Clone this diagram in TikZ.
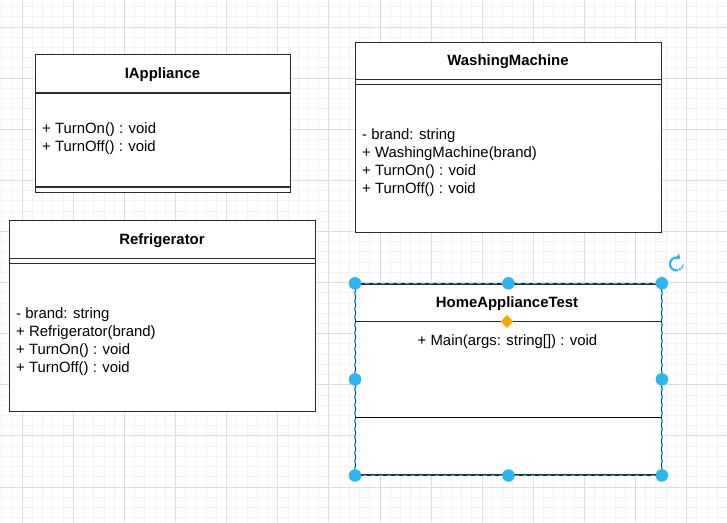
\documentclass[tikz,border=0pt]{standalone}
\usepackage{fontspec}
\setmainfont{Liberation Sans}
\usetikzlibrary{arrows.meta}
\definecolor{selblue}{HTML}{29B6F2}
\definecolor{handleor}{HTML}{FFA500}
\definecolor{gridminor}{HTML}{F3F3F3}
\definecolor{gridmajor}{HTML}{DDDDDD}
\definecolor{boxline}{HTML}{2B2B2B}
\tikzset{
  classbox/.style={draw=boxline, line width=1.2pt, fill=none, anchor=north west, inner sep=0pt},
  sep/.style={draw=boxline, line width=1.2pt},
  ctitle/.style={font=\fontsize{14.9}{17}\selectfont\bfseries, inner sep=0pt},
  member/.style={font=\fontsize{14.9}{17}\selectfont, inner sep=0pt, anchor=west, text height=11pt, text depth=4pt},
  handle/.style={circle, fill=selblue, inner sep=0pt, minimum size=12.5pt},
}
\begin{document}
\begin{tikzpicture}[x=1pt, y=-1pt]
\useasboundingbox (0,0) rectangle (727,522);
\fill[white] (0,0) rectangle (727,522);
% grid
\foreach \i in {0,...,71} \draw[gridminor, line width=0.8pt] ({1.76+\i*10.22},0) -- ({1.76+\i*10.22},522);
\foreach \i in {0,...,51} \draw[gridminor, line width=0.8pt] (0,{6.56+\i*10.22}) -- (727,{6.56+\i*10.22});
\foreach \i in {0,...,13} \draw[gridmajor, line width=0.8pt] ({22.2+\i*51.1},0) -- ({22.2+\i*51.1},522);
\foreach \i in {0,...,9} \draw[gridmajor, line width=0.8pt] (0,{27+\i*51.1}) -- (727,{27+\i*51.1});

% IAppliance
\node[classbox, fill=white, minimum width=255pt, minimum height=137.5pt] (ia) at (35,54) {};
\node[ctitle] (iat) at (162.5,74.2) {IAppliance};
\draw[sep] (35,93) -- (290,93);
\draw[sep] (35,187) -- (290,187);
\node[member] (ia1) at (42,129.5) {+ TurnOn() : void};
\node[member] (ia2) at (42,148) {+ TurnOff() : void};

% WashingMachine
\node[classbox, fill=white, minimum width=306pt, minimum height=190pt] (wm) at (355,42) {};
\node[ctitle] (wmt) at (508,61.2) {WashingMachine};
\draw[sep] (355,79.7) -- (661,79.7);
\draw[sep] (355,84.7) -- (661,84.7);
\node[member] (wm1) at (362,135.5) {- brand: string};
\node[member] (wm2) at (362,153.7) {+ WashingMachine(brand)};
\node[member] (wm3) at (362,171.9) {+ TurnOn() : void};
\node[member] (wm4) at (362,190.1) {+ TurnOff() : void};

% Refrigerator
\node[classbox, fill=white, minimum width=306pt, minimum height=191pt] (rf) at (9,220) {};
\node[ctitle] (rft) at (162,240.2) {Refrigerator};
\draw[sep] (9,258.3) -- (315,258.3);
\draw[sep] (9,263.3) -- (315,263.3);
\node[member] (rf1) at (16,314.5) {- brand: string};
\node[member] (rf2) at (16,332.7) {+ Refrigerator(brand)};
\node[member] (rf3) at (16,350.9) {+ TurnOn() : void};
\node[member] (rf4) at (16,369.1) {+ TurnOff() : void};

% HomeApplianceTest
\node[classbox, fill=white, minimum width=305.7pt, minimum height=191pt] (ht) at (355,283.3) {};
\node[ctitle] (htt) at (507,303.2) {HomeApplianceTest};
\draw[sep] (355,321.7) -- (660.7,321.7);
\draw[draw=black, line width=1.2pt] (355,417.3) -- (660.7,417.3);
\node[member, anchor=center] (ht1) at (507.5,342.2) {+ Main(args: string[]) : void};

% selection overlay
\draw[selblue, line width=1.2pt, dash pattern=on 4pt off 4pt] (ht.north west) rectangle (ht.south east);
\node[handle] (h1) at (ht.north west) {};
\node[handle] (h2) at (ht.north) {};
\node[handle] (h3) at (ht.north east) {};
\node[handle] (h4) at (ht.west) {};
\node[handle] (h5) at (ht.east) {};
\node[handle] (h6) at (ht.south west) {};
\node[handle] (h7) at (ht.south) {};
\node[handle] (h8) at (ht.south east) {};
\fill[handleor] (507,315) -- (513.2,321.5) -- (507,328) -- (500.8,321.5) -- cycle;
% rotate icon
\coordinate (rot) at (676.5,264);
\begin{scope}[shift={(rot)}, x=1pt, y=1pt]
  \draw[selblue, line width=2.2pt, -{Triangle[length=4pt,width=7pt]}] (270:6.5) arc[start angle=270, end angle=55, radius=6.5];
  \draw[selblue, line width=2.2pt, dash pattern=on 1.6pt off 1.2pt] (270:6.5) arc[start angle=270, end angle=355, radius=6.5];
\end{scope}
\end{tikzpicture}
\end{document}
